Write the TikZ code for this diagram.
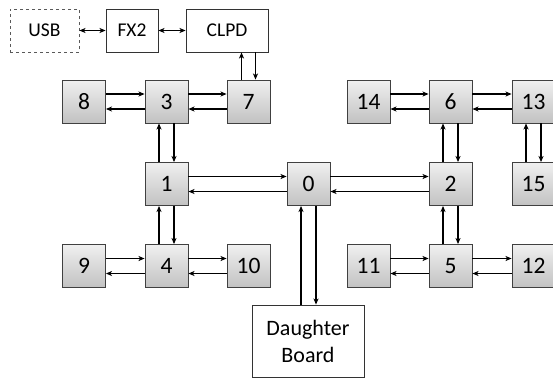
\documentclass[tikz,border=0pt]{standalone}
\usepackage{fontspec}
\setmainfont{Carlito}
\usetikzlibrary{arrows.meta}
\begin{document}
\begin{tikzpicture}[x=1pt,y=-1pt,
  router/.style={draw=black!75,line width=0.9pt,top color=black!6,bottom color=black!24,
    minimum width=43pt,minimum height=43pt,inner sep=0pt,font=\fontsize{23.5}{25}\selectfont},
  plainbox/.style={draw=black!80,line width=0.9pt,fill=white,minimum height=43pt,inner sep=0pt,
    font=\fontsize{19.5}{22}\selectfont},
  link/.style={line width=1.05pt,-{Stealth[length=6pt,width=5pt,inset=1.5pt]}},
  dlink/.style={line width=1.05pt,{Stealth[length=6pt,width=5pt,inset=1.5pt]}-{Stealth[length=6pt,width=5pt,inset=1.5pt]}}]
\useasboundingbox (0,0) rectangle (553,378);

% host interface chain
\node[plainbox,dashed,draw=black!65,minimum width=69pt] (usb) at (44.5,30.5) {USB};
\node[plainbox,minimum width=52pt] (fx2) at (132,30.5) {FX2};
\node[plainbox,minimum width=82pt] (clpd) at (227,30.5) {CLPD};

% router grid
\node[router] (n8)  at (84,101.5)    {8};
\node[router] (n3)  at (166.5,101.5) {3};
\node[router] (n7)  at (248.5,101.5) {7};
\node[router] (n14) at (368.5,101.5) {14};
\node[router] (n6)  at (450.5,101.5) {6};
\node[router] (n13) at (533.5,101.5) {13};
\node[router] (n1)  at (166.5,184)   {1};
\node[router] (n0)  at (308.5,184)   {0};
\node[router] (n2)  at (450.5,184)   {2};
\node[router] (n15) at (533.5,184)   {15};
\node[router] (n9)  at (84,266)      {9};
\node[router] (n4)  at (166.5,266)   {4};
\node[router] (n10) at (248.5,266)   {10};
\node[router] (n11) at (368.5,266)   {11};
\node[router] (n5)  at (450.5,266)   {5};
\node[router] (n12) at (533.5,266)   {12};

\node[plainbox,minimum width=112pt,minimum height=72pt,align=center,
  font=\fontsize{22}{27}\selectfont] (db) at (308,341) {Daughter\\Board};

% host links
\draw[dlink] (usb) -- (fx2);
\draw[dlink] (fx2) -- (clpd);
\draw[link] ([xshift=-7pt]n7.north) -- ([xshift=-7pt]n7.north |- clpd.south);
\draw[link] ([xshift=7pt]n7.north |- clpd.south) -- ([xshift=7pt]n7.north);

% horizontal link pairs: upper goes right, lower goes left
\foreach \a/\b in {n8/n3,n3/n7,n14/n6,n6/n13,n1/n0,n0/n2,n9/n4,n4/n10,n11/n5,n5/n12}{
  \draw[link] ([yshift=7.5pt]\a.east) -- ([yshift=7.5pt]\b.west);
  \draw[link] ([yshift=-7.5pt]\b.west) -- ([yshift=-7.5pt]\a.east);
}

% vertical link pairs: left goes up, right goes down
\foreach \t/\b in {n3/n1,n1/n4,n6/n2,n2/n5,n13/n15}{
  \draw[link] ([xshift=-7.5pt]\b.north) -- ([xshift=-7.5pt]\t.south);
  \draw[link] ([xshift=7.5pt]\t.south) -- ([xshift=7.5pt]\b.north);
}
\draw[link] ([xshift=-7.5pt]n0.south |- db.north) -- ([xshift=-7.5pt]n0.south);
\draw[link] ([xshift=7.5pt]n0.south) -- ([xshift=7.5pt]n0.south |- db.north);
\end{tikzpicture}
\end{document}
